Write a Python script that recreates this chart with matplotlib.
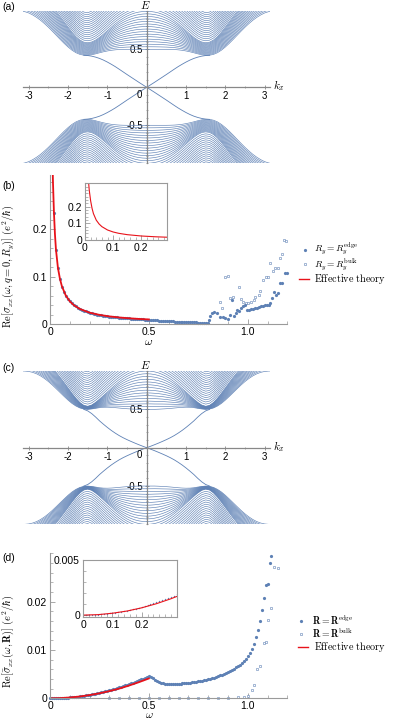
import numpy as np
import matplotlib
matplotlib.use("Agg")
import matplotlib.pyplot as plt
from matplotlib.ticker import MultipleLocator

plt.rcParams['font.family'] = ['Liberation Sans', 'DejaVu Sans']
plt.rcParams['mathtext.fontset'] = 'cm'

BLUE = '#5e81b5'
RED = '#e8121a'
GRAY = '#9a9a9a'

# ---------------- band structures (a) and (c): k >= 0, E >= 0, mirrored when drawn ----------
k_band = [0.0, 0.1, 0.2, 0.3, 0.4, 0.5, 0.6, 0.7, 0.8, 0.9, 1.0, 1.1, 1.2, 1.3, 1.4, 1.5,
          1.6, 1.7, 1.8, 1.9, 2.0, 2.1, 2.2, 2.3, 2.4, 2.5, 2.6, 2.7, 2.8, 2.9, 3.0, 3.1, np.pi]

# (a) lowest band and top of the dome bundle
a_low = [.500, .500, .500, .500, .500, .500, .499, .497, .493, .487, .478, .467, .454, .440, .428, .421,
         .422, .433, .455, .488, .530, .578, .630, .684, .738, .790, .838, .882, .920, .952, .978, .995, 1.0]
a_dome = [1.000, .997, .990, .978, .960, .937, .908, .874, .835, .792, .746, .700, .657, .621, .596, .586,
          .594, .622, .667, .725, .792, .862, .932, 1.00, 1.06, 1.12, 1.17, 1.21, 1.24, 1.26, 1.275, 1.28, 1.28]

# (c) lowest band and top of the dome bundle
c_low = [.500, .500, .500, .502, .505, .508, .512, .517, .522, .526, .528, .527, .522, .513, .505, .500,
         .504, .518, .543, .577, .620, .668, .718, .768, .817, .862, .902, .936, .963, .982, .994, .999, 1.0]
c_dome = [1.000, .997, .989, .975, .955, .929, .897, .860, .818, .773, .727, .680, .634, .591, .556, .540,
          .552, .590, .645, .710, .780, .850, .918, .982, 1.040, 1.092, 1.137, 1.175, 1.205, 1.227, 1.241, 1.248, 1.25]

# highest ribbon band (above the plot range for most k)
band_top = [1.75, 1.75, 1.74, 1.73, 1.71, 1.69, 1.66, 1.63, 1.60, 1.56, 1.52, 1.47, 1.41, 1.35, 1.30, 1.27,
            1.28, 1.32, 1.38, 1.45, 1.53, 1.61, 1.69, 1.76, 1.83, 1.89, 1.94, 1.98, 2.02, 2.04, 2.06, 2.07, 2.07]

# edge states
k_edge = [0.0, 0.1, 0.2, 0.3, 0.4, 0.5, 0.6, 0.7, 0.8, 0.9, 1.0, 1.1, 1.2, 1.3, 1.4, 1.5, 1.6]
a_edge = [0, .033, .066, .100, .134, .168, .203, .238, .272, .303, .332, .358, .380, .397, .410, .418, .422]
c_edge = [0, .019, .039, .060, .082, .105, .130, .158, .190, .225, .264, .306, .350, .400, .445, .480, .500]

# ---------------- panel (b) ----------------
omega_b = np.round(np.arange(0.02, 0.795, 0.01), 2)
edge_b = [0.235, 0.157, 0.118, 0.095, 0.079, 0.068, 0.060, 0.053, 0.048, 0.044,
          0.040, 0.037, 0.034, 0.032, 0.030, 0.028, 0.027, 0.025, 0.024, 0.023,
          0.022, 0.021, 0.020, 0.019, 0.0183, 0.0176, 0.0170, 0.0164, 0.0158, 0.0152,
          0.0147, 0.0142, 0.0138, 0.0134, 0.0130, 0.0126, 0.0123, 0.0120, 0.0117, 0.0114,
          0.0111, 0.0108, 0.0105, 0.0102, 0.0099, 0.0096, 0.0093, 0.0090, 0.0087, 0.0084,
          0.0081, 0.0078, 0.0075, 0.0072, 0.0069, 0.0066, 0.0064, 0.0061, 0.0058, 0.0056,
          0.0054, 0.0052, 0.0050, 0.0048, 0.0046, 0.0044, 0.0042, 0.0040, 0.0038, 0.0036,
          0.0035, 0.0033, 0.0032, 0.0030, 0.0029, 0.0028, 0.0027, 0.0026]
omega_b_hi = [0.80, 0.805, 0.81, 0.82, 0.83, 0.845, 0.862, 0.875, 0.887, 0.899, 0.912, 0.92, 0.929,
              0.94, 0.946, 0.955, 0.965, 0.975, 0.985, 0.995, 1.005, 1.015, 1.025, 1.035, 1.045,
              1.055, 1.065, 1.075, 1.085, 1.095, 1.105, 1.115, 1.125, 1.132, 1.145, 1.155, 1.165,
              1.174, 1.19, 1.198]
edge_b_hi = [0.002, 0.008, 0.016, 0.023, 0.025, 0.023, 0.014, 0.015, 0.012, 0.010, 0.019, 0.050, 0.017,
             0.024, 0.030, 0.028, 0.034, 0.038, 0.040, 0.030, 0.030, 0.032, 0.031, 0.033, 0.034,
             0.036, 0.037, 0.038, 0.040, 0.040, 0.040, 0.045, 0.055, 0.068, 0.062, 0.065, 0.086,
             0.086, 0.108, 0.108]
omega_b_bulk = [0.858, 0.870, 0.887, 0.899, 0.909, 0.927, 0.954, 0.968, 0.977, 0.990, 1.000, 1.018,
                1.030, 1.039, 1.056, 1.064, 1.078, 1.090, 1.101, 1.115, 1.129, 1.137, 1.154, 1.165,
                1.175, 1.182, 1.192]
bulk_b = [0.047, 0.033, 0.099, 0.101, 0.056, 0.058, 0.079, 0.052, 0.047, 0.044, 0.044, 0.046,
          0.050, 0.058, 0.061, 0.070, 0.093, 0.100, 0.100, 0.128, 0.111, 0.118, 0.118, 0.140,
          0.147, 0.178, 0.175]
omega_b_eff = [0.012, 0.015, 0.02, 0.025, 0.03, 0.04, 0.05, 0.06, 0.08, 0.10, 0.12, 0.15, 0.20,
               0.25, 0.30, 0.35, 0.40, 0.45, 0.50]
eff_b = [0.36, 0.30, 0.235, 0.19, 0.158, 0.119, 0.096, 0.080, 0.060, 0.048, 0.040, 0.032, 0.024,
         0.0193, 0.0161, 0.0138, 0.0121, 0.0107, 0.0097]

# ---------------- panel (d) ----------------
omega_d = np.round(np.arange(0, 1.125, 0.01), 2)
edge_d_milli = [0, 0.002, 0.007, 0.017, 0.029, 0.046, 0.066, 0.090, 0.118, 0.149,
                0.184, 0.223, 0.265, 0.311, 0.361, 0.414, 0.471, 0.532, 0.596, 0.664,
                0.736, 0.811, 0.891, 0.973, 1.060, 1.150, 1.244, 1.341, 1.443, 1.547,
                1.656, 1.768, 1.884, 2.004, 2.127, 2.254, 2.385, 2.519, 2.657, 2.799,
                2.944, 3.093, 3.246, 3.402, 3.562, 3.726, 3.893, 4.065, 4.239, 4.418,
                4.600, 4.35, 4.10, 3.85, 3.60, 3.40, 3.25, 3.12, 3.05, 3.00,
                2.98, 2.97, 2.97, 2.98, 3.00, 3.02, 3.05, 3.08, 3.12, 3.16,
                3.20, 3.25, 3.30, 3.36, 3.42, 3.50, 3.58, 3.66, 3.75, 3.85,
                3.95, 4.06, 4.18, 4.30, 4.43, 4.57, 4.72, 4.88, 5.05, 5.23,
                5.42, 5.63, 5.85, 6.10, 6.37, 6.66, 6.98, 7.35, 7.75, 8.20,
                8.75, 9.40, 10.2, 11.3, 12.6, 14.2, 16.0, 18.2, 20.8, 23.5,
                23.6, 28.0, 29.5]
edge_d = [v * 1e-3 for v in edge_d_milli]
omega_d_bulk = [0.30, 0.35, 0.40, 0.45, 0.50, 0.55, 0.60, 0.65, 0.70, 0.75, 0.80, 0.85, 0.90, 0.95,
                0.98, 1.00, 1.02, 1.034, 1.047, 1.06, 1.08, 1.09, 1.10, 1.12, 1.135, 1.155]
bulk_d = [0, 0, 0, 0, 0, 0, 0, 0, 0, 0, 0.00005, 0.0001, 0.0001, 0.0002,
          0.0003, 0.0005, 0.0017, 0.0028, 0.0060, 0.0066, 0.0115, 0.0117, 0.0162, 0.0186, 0.0272, 0.0269]
omega_d_eff = [0, 0.05, 0.10, 0.15, 0.20, 0.25, 0.30, 0.35, 0.40, 0.45, 0.50]
eff_d = [0, 0.00004, 0.00017, 0.00037, 0.00066, 0.00103, 0.00148, 0.0020, 0.00264, 0.00334, 0.0041]

W, H = 394, 720
fig = plt.figure(figsize=(W / 100, H / 100), dpi=100)


def box(l, t, r, b):
    return [l / W, 1 - b / H, (r - l) / W, (b - t) / H]


def band_panel(rect, bundles, edge):
    ax = fig.add_axes(rect)
    ax.set_xlim(-np.pi, np.pi)
    ax.set_ylim(-1, 1)
    k = np.array(k_band)
    for i, (lo, hi, n) in enumerate(bundles):
        lo = np.array(lo)
        hi = np.array(hi)
        # bundle i holds n bands starting at its lower curve
        for s in np.arange(n) / n if i < len(bundles) - 1 else np.linspace(0, 1, n):
            e = lo + s * (hi - lo)
            for sk in (1, -1):
                for se in (1, -1):
                    ax.plot(sk * k, se * e, color=BLUE, lw=0.45)
    ke = np.array(k_edge)
    edge = np.array(edge)
    for sk in (1, -1):
        for se in (1, -1):
            ax.plot(sk * ke, se * edge, color=BLUE, lw=0.6)
    for side in ('top', 'right'):
        ax.spines[side].set_visible(False)
    for side in ('left', 'bottom'):
        ax.spines[side].set_position(('data', 0))
        ax.spines[side].set_color('#888888')
        ax.spines[side].set_linewidth(0.9)
        ax.spines[side].set_zorder(5)
    ax.set_xticks([-3, -2, -1, 1, 2, 3])
    ax.set_xticklabels(['-3', '-2', '-1', '1', '2', '3'])
    ax.xaxis.set_minor_locator(MultipleLocator(0.5))
    ax.set_yticks([-0.5, 0.5])
    ax.set_yticklabels(['-0.5', '0.5'])
    ax.yaxis.set_minor_locator(MultipleLocator(0.1))
    ax.tick_params(which='both', direction='inout', color='#888888', labelsize=7, pad=1)
    ax.tick_params(which='major', length=3.5, width=0.6)
    ax.tick_params(which='minor', length=1.8, width=0.5)
    ax.patch.set_visible(False)
    ax.text(-0.12, -0.03, '0', ha='right', va='top', fontsize=7)
    ax.annotate('$E$', xy=(0, 1), xytext=(-1, 0), textcoords='offset points',
                ha='center', va='bottom', fontsize=8, annotation_clip=False)
    ax.annotate('$k_x$', xy=(np.pi, 0), xytext=(2, 1), textcoords='offset points',
                ha='left', va='center', fontsize=8, annotation_clip=False)
    return ax


band_panel(box(23.2, 11.3, 270.2, 163.3),
           [(a_low, a_dome, 15), (a_dome, band_top, 27)], a_edge)
band_panel(box(23.2, 371.0, 270.2, 524.4),
           [(c_low, c_dome, 14), (c_dome, band_top, 27)], c_edge)


def frame_style(ax, full):
    for side in ('top', 'right'):
        ax.spines[side].set_visible(full)
    for sp in ax.spines.values():
        sp.set_color(GRAY)
        sp.set_linewidth(0.8)
    ax.tick_params(which='both', direction='in', color=GRAY, labelsize=7.5, pad=2,
                   top=False, right=False)
    ax.tick_params(which='major', length=3.5, width=0.6)
    ax.tick_params(which='minor', length=2, width=0.5)


# ---- (b) main
axb = fig.add_axes(box(50, 175, 287.3, 324))
axb.plot(omega_b, edge_b, 'o', ms=2.3, color=BLUE, mec='none', clip_on=False)
axb.plot(omega_b_bulk, bulk_b, 's', ms=2.0, mfc='white', mec=BLUE, mew=0.4, clip_on=False)
axb.plot(omega_b_hi, edge_b_hi, 'o', ms=2.3, color=BLUE, mec='none', clip_on=False)
axb.plot(omega_b_eff, eff_b, color=RED, lw=1.3)
axb.set_xlim(0, 1.2)
axb.set_ylim(0, 0.315)
axb.set_xticks([0, 0.5, 1.0])
axb.set_xticklabels(['0', '0.5', '1.0'])
axb.xaxis.set_minor_locator(MultipleLocator(0.1))
axb.set_yticks([0, 0.1, 0.2])
axb.set_yticklabels(['0', '0.1', '0.2'])
axb.yaxis.set_minor_locator(MultipleLocator(0.02))
frame_style(axb, False)

# ---- (b) inset
axbi = fig.add_axes(box(85, 183.3, 166.7, 240))
axbi.plot(omega_b_eff, eff_b, color=RED, lw=0.8)
axbi.set_xlim(0, 0.29)
axbi.set_ylim(0, 0.34)
axbi.set_xticks([0, 0.1, 0.2])
axbi.set_xticklabels(['0', '0.1', '0.2'])
axbi.set_yticks([0, 0.1, 0.2])
axbi.set_yticklabels(['0', '0.1', '0.2'])
axbi.xaxis.set_minor_locator(MultipleLocator(0.02))
axbi.yaxis.set_minor_locator(MultipleLocator(0.02))
frame_style(axbi, True)

# ---- (d) main
axd = fig.add_axes(box(50, 552.7, 287.3, 698.3))
axd.plot(omega_d_bulk, bulk_d, 's', ms=2.0, mfc='white', mec=BLUE, mew=0.4, clip_on=False)
axd.plot(omega_d, edge_d, 'o', ms=2.3, color=BLUE, mec='none', clip_on=False)
axd.plot(omega_d_eff, eff_d, color=RED, lw=1.3)
axd.set_xlim(0, 1.2)
axd.set_ylim(0, 0.0301)
axd.set_xticks([0, 0.5, 1.0])
axd.set_xticklabels(['0', '0.5', '1.0'])
axd.xaxis.set_minor_locator(MultipleLocator(0.1))
axd.set_yticks([0, 0.01, 0.02])
axd.set_yticklabels(['0', '0.01', '0.02'])
axd.yaxis.set_minor_locator(MultipleLocator(0.002))
frame_style(axd, False)

# ---- (d) inset
axdi = fig.add_axes(box(82.7, 560, 176.7, 617.3))
axdi.plot(omega_d[:33], edge_d[:33], 'o', ms=1.0, color=BLUE, mec='none')
axdi.plot(omega_d_eff, eff_d, color=RED, lw=0.8)
axdi.set_xlim(-0.002, 0.32)
axdi.set_ylim(-0.0002, 0.005)
axdi.set_xticks([0, 0.1, 0.2])
axdi.set_xticklabels(['0', '0.1', '0.2'])
axdi.set_yticks([0, 0.005])
axdi.set_yticklabels(['0', '0.005'])
axdi.xaxis.set_minor_locator(MultipleLocator(0.02))
axdi.yaxis.set_minor_locator(MultipleLocator(0.001))
frame_style(axdi, True)

# ---- overlay for labels and legends (pixel coordinates)
ov = fig.add_axes([0, 0, 1, 1])
ov.set_xlim(0, W)
ov.set_ylim(H, 0)
ov.axis('off')
ov.patch.set_visible(False)

ov.text(2, 7, '(a)', fontsize=7.5, va='center', ha='left')
ov.text(2, 186, '(b)', fontsize=7.5, va='center', ha='left')
ov.text(2, 368, '(c)', fontsize=7.5, va='center', ha='left')
ov.text(2, 558, '(d)', fontsize=7.5, va='center', ha='left')

ov.text(8, 266, r'$\mathrm{Re}[\sigma_{xx}(\omega,q=0,R_y)]\ (e^2/\hbar)$', rotation=90,
        ha='center', va='center', fontsize=7.5)
ov.text(8, 641, r'$\mathrm{Re}[\bar{\sigma}_{xx}(\omega,\mathbf{R})]\ (e^2/\hbar)$', rotation=90,
        ha='center', va='center', fontsize=7.5)
ov.text(149, 342, r'$\omega$', ha='center', va='center', fontsize=8.5)
ov.text(149, 715, r'$\omega$', ha='center', va='center', fontsize=8)

# legend (b)
ov.plot([305], [250], 'o', ms=2.3, color=BLUE, mec='none')
ov.text(314, 249, r'$R_y = R_y^{\mathrm{edge}}$', fontsize=6.8, va='center')
ov.plot([305], [264], 's', ms=2.0, mfc='white', mec=BLUE, mew=0.4)
ov.text(314, 265.5, r'$R_y = R_y^{\mathrm{bulk}}$', fontsize=6.8, va='center')
ov.plot([299, 309], [279, 279], color=RED, lw=1.0)
ov.text(314, 279.5, r'$\mathrm{Effective\ theory}$', fontsize=7.3, va='center')

# legend (d)
ov.plot([301], [621], 'o', ms=2.3, color=BLUE, mec='none')
ov.text(312, 621, r'$\mathbf{R} = \mathbf{R}^{\mathrm{edge}}$', fontsize=7, va='center')
ov.plot([301], [634], 's', ms=2.0, mfc='white', mec=BLUE, mew=0.4)
ov.text(312, 634, r'$\mathbf{R} = \mathbf{R}^{\mathrm{bulk}}$', fontsize=7, va='center')
ov.plot([298, 308], [647, 647], color=RED, lw=1.0)
ov.text(314, 647, r'$\mathrm{Effective\ theory}$', fontsize=7.3, va='center')

fig.savefig('out.png', dpi=100)
